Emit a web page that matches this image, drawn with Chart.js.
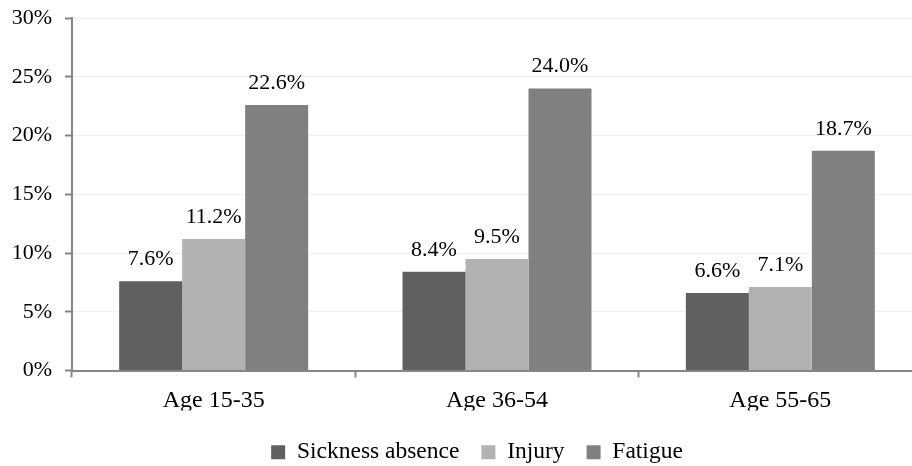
<!DOCTYPE html>
<html>
<head>
<meta charset="utf-8">
<script src="https://cdn.jsdelivr.net/npm/chart.js@4/dist/chart.umd.min.js"></script>
<style>
  html, body { margin: 0; padding: 0; background: #fff; overflow: hidden; }
  #wrap { width: 925px; height: 466px; position: relative; }
</style>
</head>
<body>
<div id="wrap"><canvas id="chart"></canvas></div>
<script>
const categories = ['Age 15-35', 'Age 36-54', 'Age 55-65'];
const seriesNames = ['Sickness absence', 'Injury', 'Fatigue'];
const sickness = [7.6, 8.4, 6.6];
const injury = [11.2, 9.5, 7.1];
const fatigue = [22.6, 24.0, 18.7];
const colors = ['#606060', '#b2b2b2', '#808080'];

const FONT = '"Liberation Serif", "Times New Roman", serif';

// labels above each bar
const valueLabels = {
    id: 'valueLabels',
    afterDatasetsDraw(chart) {
        const ctx = chart.ctx;
        ctx.save();
        ctx.font = '22px ' + FONT;
        ctx.fillStyle = '#000';
        ctx.textAlign = 'center';
        ctx.textBaseline = 'middle';
        chart.data.datasets.forEach((ds, i) => {
            chart.getDatasetMeta(i).data.forEach((bar, j) => {
                ctx.fillText(ds.data[j].toFixed(1) + '%', bar.x, bar.y - 22);
            });
        });
        ctx.restore();
    }
};

// nudge the legend to where the original has it
const legendShift = {
    id: 'legendShift',
    afterLayout(chart) {
        const lg = chart.legend;
        if (!lg) return;
        lg.left += 16; lg.right += 16;
        lg.top += 8; lg.bottom += 8;
    }
};

new Chart(document.getElementById('chart'), {
    type: 'bar',
    data: {
        labels: categories,
        datasets: [
            { label: seriesNames[0], data: sickness, backgroundColor: colors[0] },
            { label: seriesNames[1], data: injury, backgroundColor: colors[1] },
            { label: seriesNames[2], data: fatigue, backgroundColor: colors[2] }
        ]
    },
    options: {
        responsive: true,
        maintainAspectRatio: false,
        animation: false,
        layout: { padding: { top: 0, right: 3, left: 0, bottom: 0 } },
        datasets: { bar: { categoryPercentage: 0.667, barPercentage: 1.0 } },
        plugins: {
            legend: {
                position: 'bottom',
                labels: {
                    boxWidth: 14, boxHeight: 14,
                    padding: 22,
                    color: '#000',
                    font: { family: FONT, size: 23.5 }
                }
            },
            tooltip: { enabled: false }
        },
        scales: {
            x: {
                grid: { offset: true, drawOnChartArea: false, tickColor: '#868686', tickLength: 7, tickWidth: 2 },
                border: { color: '#868686', width: 2 },
                ticks: { color: '#000', font: { family: FONT, size: 24 }, padding: 9 },
                afterFit(scale) { scale.height = 40; }
            },
            y: {
                min: 0, max: 30,
                ticks: {
                    stepSize: 5, color: '#000', padding: 13,
                    font: { family: FONT, size: 22 },
                    callback: v => v + '%'
                },
                grid: { color: '#eeeeee', tickColor: '#868686', tickLength: 7, tickWidth: 2 },
                border: { color: '#868686', width: 2 },
                afterFit(scale) {
                    scale.width = 72;
                    scale.paddingTop = 18;
                    scale.paddingBottom = 0;
                }
            }
        }
    },
    plugins: [valueLabels, legendShift]
});
</script>
</body>
</html>
